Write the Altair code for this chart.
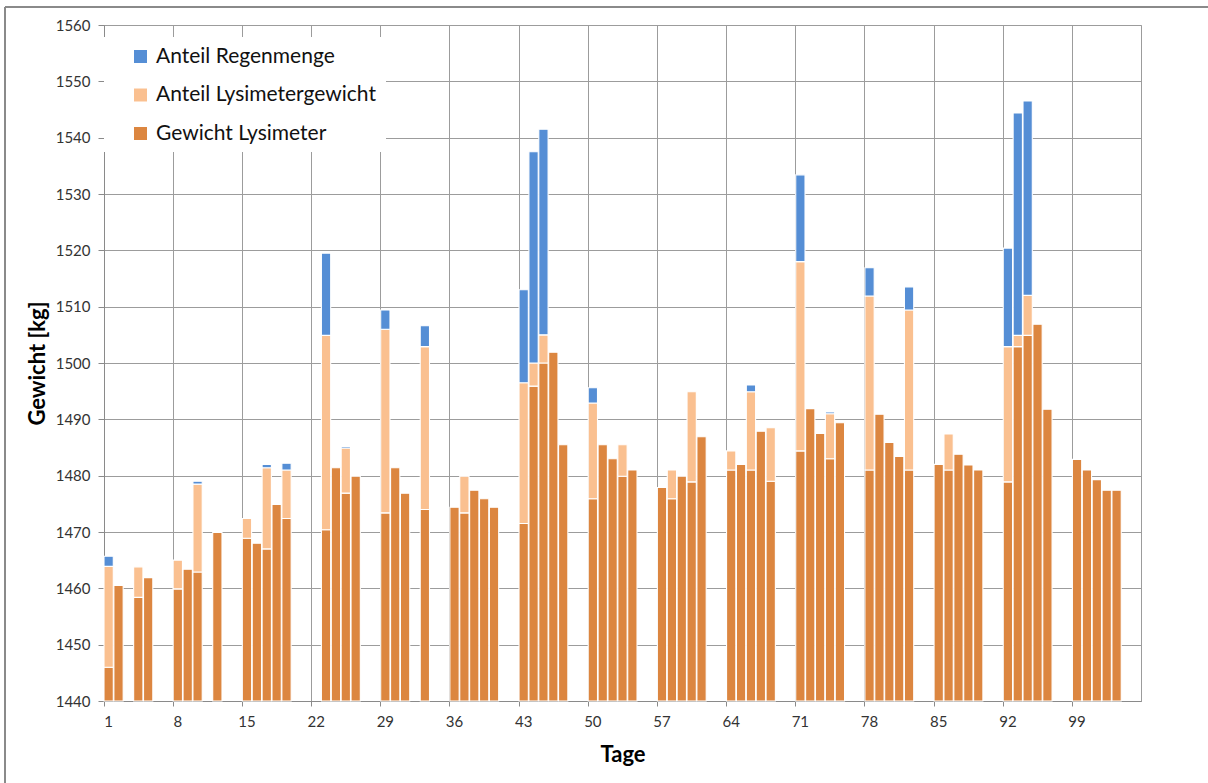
import altair as alt
import pandas as pd

# ---- data ----
tage = [1, 2, 4, 5, 8, 9, 10, 12, 15, 16, 17, 18, 19,
        23, 24, 25, 26, 29, 30, 31, 33, 36, 37, 38, 39, 40,
        43, 44, 45, 46, 47, 50, 51, 52, 53, 54, 57, 58, 59, 60, 61,
        64, 65, 66, 67, 68, 71, 72, 73, 74, 75, 78, 79, 80, 81, 82,
        85, 86, 87, 88, 89, 92, 93, 94, 95, 96, 99, 100, 101, 102, 103]

gewicht_lysimeter = [1446.0, 1460.5, 1458.4, 1461.9, 1459.9, 1463.4, 1462.9, 1469.9, 1468.9, 1468.0, 1467.0, 1474.9, 1472.4,
                     1470.4, 1481.4, 1476.9, 1479.9, 1473.4, 1481.4, 1476.9, 1474.0, 1474.4, 1473.4, 1477.4, 1475.9, 1474.4,
                     1471.5, 1495.9, 1500.0, 1501.9, 1485.5, 1475.9, 1485.5, 1483.0, 1479.9, 1481.0, 1477.9, 1475.9, 1479.9, 1478.9, 1486.9,
                     1481.0, 1482.0, 1481.0, 1487.9, 1479.0, 1484.4, 1491.9, 1487.5, 1483.0, 1489.4, 1481.0, 1490.9, 1485.9, 1483.4, 1481.0,
                     1482.0, 1481.0, 1483.8, 1481.9, 1481.0, 1478.9, 1502.9, 1504.9, 1506.9, 1491.8, 1482.9, 1481.0, 1479.3, 1477.4, 1477.4]

anteil_lysimetergewicht = [17.9, 0, 5.4, 0, 5.1, 0, 15.6, 0, 3.5, 0, 14.4, 0, 8.6,
                           34.5, 0, 8.0, 0, 32.6, 0, 0, 28.9, 0, 6.5, 0, 0, 0,
                           25.0, 4.1, 5.0, 0, 0, 17.0, 0, 0, 5.6, 0, 0, 5.1, 0, 16.0, 0,
                           3.4, 0, 13.9, 0, 9.5, 33.6, 0, 0, 8.0, 0, 30.9, 0, 0, 0, 28.4,
                           0, 6.4, 0, 0, 0, 24.0, 2.0, 7.1, 0, 0, 0, 0, 0, 0, 0]

anteil_regenmenge = [1.8, 0, 0, 0, 0, 0, 0.5, 0, 0, 0, 0.6, 0, 1.2,
                     14.6, 0, 0.3, 0, 3.4, 0, 0, 3.7, 0, 0, 0, 0, 0,
                     16.5, 37.5, 36.5, 0, 0, 2.7, 0, 0, 0, 0, 0, 0, 0, 0, 0,
                     0, 0, 1.2, 0, 0, 15.4, 0, 0, 0.3, 0, 5.0, 0, 0, 0, 4.1,
                     0, 0, 0, 0, 0, 17.5, 39.5, 34.5, 0, 0, 0, 0, 0, 0, 0]

serien = ["Anteil Regenmenge", "Anteil Lysimetergewicht", "Gewicht Lysimeter"]
farben = ["#558ED5", "#FAC090", "#DC8640"]

y_min, y_max = 1440, 1560
n_tage = 105
x_ticks = list(range(1, 100, 7))

rows = []
for t, g, l, r in zip(tage, gewicht_lysimeter, anteil_lysimetergewicht, anteil_regenmenge):
    rows.append({"tag": t, "serie": serien[2], "unten": y_min, "oben": g})
    if l > 0:
        rows.append({"tag": t, "serie": serien[1], "unten": g, "oben": g + l})
    if r > 0:
        rows.append({"tag": t, "serie": serien[0], "unten": g + l, "oben": g + l + r})
df = pd.DataFrame(rows)

FONT = "Lato"

bars = alt.Chart(df).mark_bar(stroke="white", strokeWidth=1.1).encode(
    x=alt.X("tag:O",
            scale=alt.Scale(domain=list(range(1, n_tage + 1)), paddingInner=0.06, paddingOuter=0),
            axis=alt.Axis(values=x_ticks, bandPosition=0, labelAngle=0, title="Tage",
                          grid=True, tickSize=5, labelPadding=8,
                          titlePadding=15)),
    y=alt.Y("unten:Q",
            scale=alt.Scale(domain=[y_min, y_max], nice=False, zero=False),
            axis=alt.Axis(values=list(range(y_min, y_max + 1, 10)), format="d", title="Gewicht [kg]",
                          tickSize=6, labelPadding=8, titlePadding=6)),
    y2="oben:Q",
    color=alt.Color("serie:N",
                    scale=alt.Scale(domain=serien, range=farben),
                    legend=alt.Legend(title=None, orient="none", legendX=26, legendY=21,
                                      symbolType="square", symbolSize=169, symbolStrokeWidth=0,
                                      labelFontSize=21, labelFont=FONT, labelColor="#111",
                                      labelLimit=0, labelOffset=5, rowPadding=16.5, padding=0)),
)

legend_bg = alt.Chart(df).mark_rect(fill="white").encode(
    x=alt.value(0), x2=alt.value(282), y=alt.value(12), y2=alt.value(127)
)

border_left = alt.Chart(df).mark_rule(stroke="#8a8a8a", strokeWidth=1.5).encode(
    x=alt.value(-99), y=alt.value(-18), y2=alt.value(900)
)
border_top = alt.Chart(df).mark_rule(stroke="#8a8a8a", strokeWidth=1.5).encode(
    x=alt.value(-99), x2=alt.value(1400), y=alt.value(-18)
)

chart = alt.layer(border_left, border_top, bars, legend_bg).properties(
    width=1037, height=676,
    autosize=alt.AutoSizeParams(type="none"),
    padding={"left": 104, "top": 25, "right": 67, "bottom": 82},
    background="white",
).configure_axis(
    labelFont=FONT, labelFontSize=15, labelColor="#333",
    titleFont=FONT, titleFontSize=22, titleFontWeight="bold", titleColor="#000",
    gridColor="#9c9c9c", gridWidth=1, domainColor="#8a8a8a", tickColor="#8a8a8a",
).configure_view(stroke="#9c9c9c")

chart.save("out.html", embed_options={"renderer": "svg", "actions": False})
